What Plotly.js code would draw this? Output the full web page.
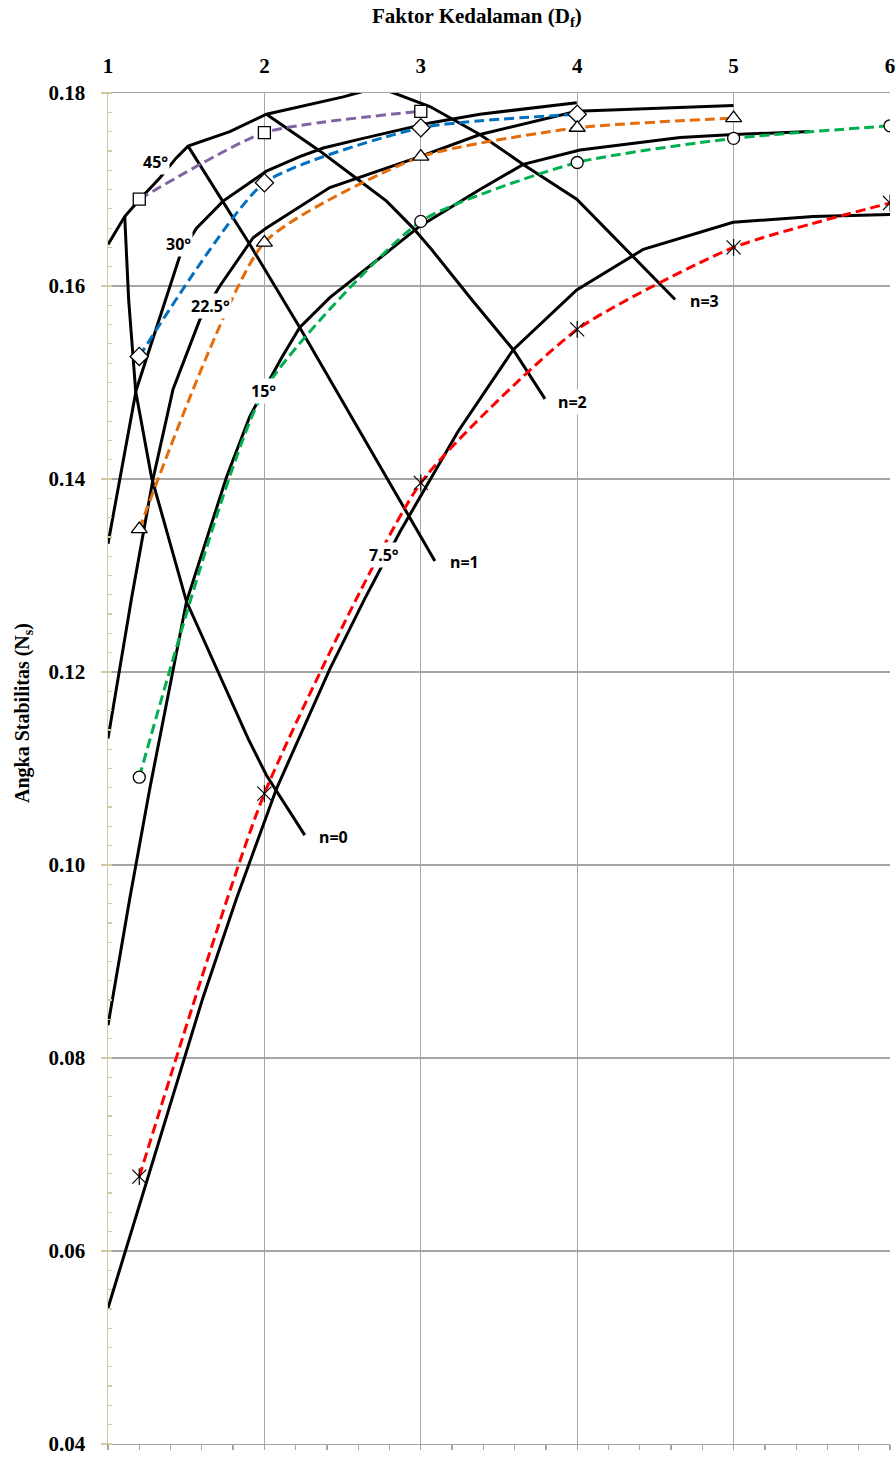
<!DOCTYPE html>
<html>
<head>
<meta charset="utf-8">
<script src="https://cdn.plot.ly/plotly-3.0.1.min.js"></script>
<style>html,body{margin:0;padding:0;background:#fff;}#chart{width:896px;height:1457px;}</style>
</head>
<body>
<div id="chart"></div>
<script>
// ---------- text ----------
const xTitle = 'Faktor Kedalaman (D<sub>f</sub>)';
const yTitle = 'Angka Stabilitas (N<sub>s</sub>)';

// ---------- black solid curves: slope angle beta ----------
const b45X = [1.0, 1.107, 1.203, 1.331, 1.438, 1.512, 1.779, 2.013, 2.504, 2.729];
const b45Y = [0.1643, 0.1672, 0.1690, 0.1712, 0.1733, 0.1745, 0.1760, 0.1778, 0.1796, 0.1806];

const b30X = [1.0, 1.180, 1.465, 1.566, 1.736, 2.013, 2.226, 2.376, 2.631, 3.058, 3.378, 3.997];
const b30Y = [0.1333, 0.1492, 0.1634, 0.1660, 0.1688, 0.1719, 0.1734, 0.1743, 0.1753, 0.1769, 0.1778, 0.1790];

const b225X = [1.0, 1.150, 1.288, 1.416, 1.587, 1.715, 1.928, 2.013, 2.418, 2.994, 3.378, 3.997, 4.999];
const b225Y = [0.1131, 0.1276, 0.1400, 0.1493, 0.1565, 0.1600, 0.1650, 0.1660, 0.1702, 0.1734, 0.1757, 0.1781, 0.1787];

const b15X = [1.0, 1.139, 1.267, 1.502, 1.758, 1.907, 2.003, 2.111, 2.226, 2.418, 2.738, 2.994, 3.378, 3.655, 4.018, 4.658, 4.999, 5.489];
const b15Y = [0.0834, 0.0965, 0.1079, 0.1273, 0.1402, 0.1465, 0.1494, 0.1526, 0.1557, 0.1588, 0.1629, 0.1662, 0.1700, 0.1726, 0.1741, 0.1754, 0.1757, 0.1760];

const b75X = [1.0, 1.606, 1.821, 2.077, 2.418, 2.642, 2.866, 3.237, 3.591, 3.997, 4.423, 4.997, 5.509, 6.0];
const b75Y = [0.0541, 0.0862, 0.0965, 0.1079, 0.1203, 0.1276, 0.1345, 0.1449, 0.1534, 0.1596, 0.1638, 0.1666, 0.1672, 0.1674];

// ---------- black solid curves: n lines ----------
const n0X = [1.107, 1.132, 1.177, 1.278, 1.502, 1.896, 2.013, 2.258];
const n0Y = [0.1672, 0.1586, 0.1491, 0.1402, 0.1273, 0.1131, 0.1093, 0.1031];

const n1X = [1.512, 1.907, 2.226, 2.610, 3.090];
const n1Y = [0.1745, 0.1643, 0.1557, 0.1450, 0.1315];

const n2X = [2.013, 2.354, 2.568, 2.781, 2.951, 3.058, 3.325, 3.591, 3.794];
const n2Y = [0.1778, 0.1740, 0.1714, 0.1688, 0.1660, 0.1640, 0.1586, 0.1534, 0.1483];

const n3X = [2.729, 3.058, 3.378, 3.655, 3.997, 4.626];
const n3Y = [0.1806, 0.1786, 0.1757, 0.1726, 0.1690, 0.1586];

// ---------- dashed curves with markers ----------
const dfPts = [1.2, 2, 3, 4, 5, 6];
const ns45 = [0.1690, 0.1759, 0.1781];
const ns30 = [0.1527, 0.1707, 0.1764, 0.1778];
const ns225 = [0.1348, 0.1645, 0.1734, 0.1764, 0.1774];
const ns15 = [0.1091, 0.1492, 0.1667, 0.1728, 0.1753, 0.1766];
const ns75 = [0.0677, 0.1074, 0.1396, 0.1555, 0.1640, 0.1686];

// ---------- curve labels ----------
const labelText = ['45°', '30°', '22.5°', '15°', '7.5°', 'n=0', 'n=1', 'n=2', 'n=3'];
const labelX = [1.305, 1.452, 1.657, 1.996, 2.764, 2.444, 3.282, 3.972, 4.811];
const labelY = [0.1728, 0.1644, 0.1579, 0.1491, 0.1321, 0.1029, 0.1314, 0.1480, 0.1584];

// ---------- build ----------
const blackLine = {color: '#000000', width: 3};
function black(x, y, name) {
  return {x: x, y: y, type: 'scatter', mode: 'lines', name: name, line: blackLine, hoverinfo: 'skip'};
}
function dashed(y, color, symbol, size, name) {
  return {
    x: dfPts.slice(0, y.length), y: y, type: 'scatter', mode: 'lines+markers', name: name,
    line: {color: color, width: 3, dash: '10px,5px', shape: 'spline', smoothing: 0.55},
    marker: {symbol: symbol, size: size, color: '#ffffff', line: {color: '#000000', width: 1.3}}
  };
}

const traces = [
  {x: [], y: [], type: 'scatter', xaxis: 'x2', yaxis: 'y', showlegend: false},
  black(b45X, b45Y, '45°'),
  black(b30X, b30Y, '30°'),
  black(b225X, b225Y, '22.5°'),
  black(b15X, b15Y, '15°'),
  black(b75X, b75Y, '7.5°'),
  black(n0X, n0Y, 'n=0'),
  black(n1X, n1Y, 'n=1'),
  black(n2X, n2Y, 'n=2'),
  black(n3X, n3Y, 'n=3'),
  dashed(ns45, '#8064a2', 'square', 12, '45° dashed'),
  dashed(ns30, '#0070c0', 'diamond', 14, '30° dashed'),
  dashed(ns225, '#e46c0a', 'triangle-up', 14, '22.5° dashed'),
  dashed(ns15, '#00b050', 'circle', 12, '15° dashed'),
  {
    x: dfPts.slice(0, ns75.length), y: ns75, type: 'scatter', mode: 'lines+markers', name: '7.5° dashed',
    line: {color: '#ff0000', width: 3, dash: '10px,5px', shape: 'spline', smoothing: 0.55},
    marker: {symbol: 'x-thin-open', size: 14, color: '#000000', line: {color: '#000000', width: 1.2}}
  },
  {
    x: dfPts.slice(0, ns75.length), y: ns75, type: 'scatter', mode: 'markers', name: '7.5° marker',
    marker: {symbol: 'line-ns-open', size: 12, color: '#000000', line: {color: '#000000', width: 1.2}}
  }
];

const labelFont = {family: 'Noto Sans, Open Sans, sans-serif', size: 16, color: '#000000', weight: 'bold'};
const annotations = labelText.map((t, i) => ({
  x: labelX[i], y: labelY[i], xref: 'x', yref: 'y', text: t, showarrow: false,
  font: labelFont, bgcolor: '#ffffff', borderpad: 1
}));
const serifBold = {family: 'Liberation Serif, Times New Roman, serif', size: 21, color: '#000000', weight: 'bold'};
annotations.push({
  xref: 'paper', yref: 'paper', x: (477 - 108) / 782, y: (1444 - 17) / 1351,
  text: xTitle, showarrow: false, font: Object.assign({}, serifBold, {size: 21}),
  xanchor: 'center', yanchor: 'middle'
});
annotations.push({
  xref: 'paper', yref: 'paper', x: (24 - 108) / 782, y: (1444 - 713) / 1351,
  text: yTitle, showarrow: false, textangle: -90, font: Object.assign({}, serifBold, {size: 20}),
  xanchor: 'center', yanchor: 'middle'
});

const gridC = '#a6a6a6';
const tanC = '#d2caa6';
const layout = {
  width: 896, height: 1457,
  margin: {l: 108, r: 6, t: 93, b: 13, pad: 0},
  paper_bgcolor: '#ffffff', plot_bgcolor: '#ffffff',
  showlegend: false,
  font: {family: 'Liberation Serif, serif', color: '#000'},
  xaxis: {
    range: [1, 6], side: 'top', tick0: 1, dtick: 1, showgrid: true, gridcolor: gridC, gridwidth: 1.3,
    showline: true, linecolor: gridC, linewidth: 1.3, ticks: '', zeroline: false,
    tickfont: serifBold, ticklabelstandoff: 10
  },
  xaxis2: {
    range: [1, 6], overlaying: 'x', side: 'bottom', tick0: 1, dtick: 1, showticklabels: false,
    ticks: 'outside', ticklen: 5, tickcolor: gridC, tickwidth: 1.3, showline: true, linecolor: gridC,
    linewidth: 1.3, showgrid: false, zeroline: false,
    minor: {dtick: 0.2, ticks: 'outside', ticklen: 5, tickcolor: gridC, tickwidth: 1.3, showgrid: false}
  },
  yaxis: {
    range: [0.04, 0.18], tick0: 0.04, dtick: 0.02, tickformat: '.2f', showgrid: true, gridcolor: gridC,
    gridwidth: 1.3, showline: true, linecolor: tanC, linewidth: 1.5, ticks: 'outside', ticklen: 6,
    tickcolor: tanC, tickwidth: 1.3, zeroline: false, tickfont: serifBold, ticklabelstandoff: 11,
    minor: {dtick: 0.002, ticks: 'inside', ticklen: 4, tickcolor: tanC, tickwidth: 1.2, showgrid: false}
  },
  annotations: annotations
};

Plotly.newPlot('chart', traces, layout, {displayModeBar: false, staticPlot: true});
</script>
</body>
</html>
